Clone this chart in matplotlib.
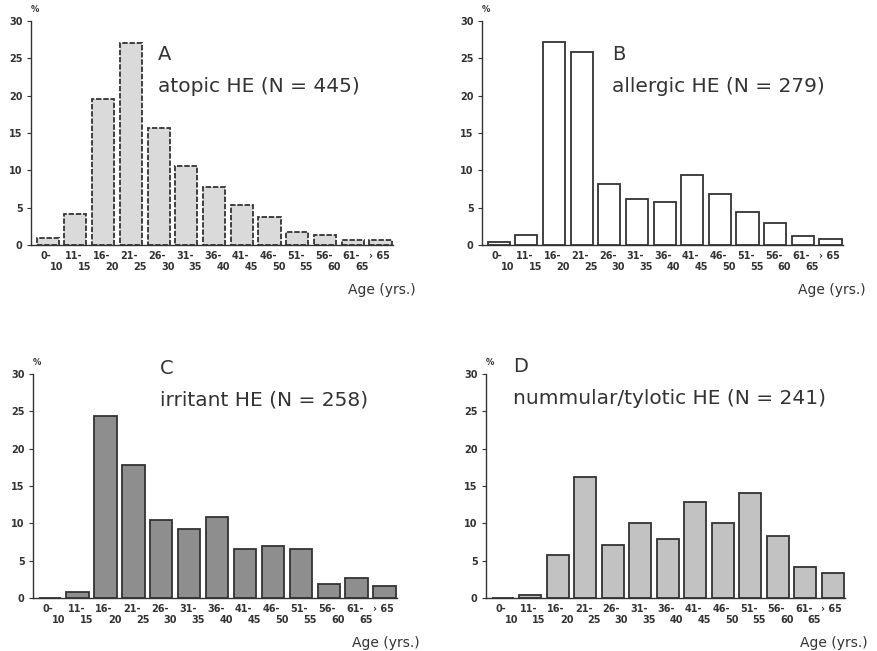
import matplotlib
matplotlib.use("Agg")
import matplotlib.pyplot as plt
from matplotlib.transforms import blended_transform_factory

W, H = 877, 651

age_top = ["0-", "11-", "16-", "21-", "26-", "31-", "36-", "41-", "46-", "51-", "56-", "61-", "› 65"]
age_bottom = ["10", "15", "20", "25", "30", "35", "40", "45", "50", "55", "60", "65", ""]

atopic = [0.9, 4.2, 19.5, 27.1, 15.7, 10.6, 7.8, 5.3, 3.7, 1.8, 1.3, 0.7, 0.7]
allergic = [0.45, 1.3, 27.2, 25.8, 8.2, 6.1, 5.7, 9.4, 6.8, 4.4, 3.0, 1.2, 0.8]
irritant = [0.0, 0.75, 24.4, 17.8, 10.5, 9.3, 10.9, 6.6, 7.0, 6.6, 1.9, 2.7, 1.6]
nummular = [0.0, 0.35, 5.7, 16.2, 7.1, 10.0, 7.9, 12.9, 10.0, 14.1, 8.3, 4.1, 3.4]

panels = [
    # values, letter, label, fill, edge style, axes box in pixels (left, top, right, bottom), text pos
    (atopic, "A", "atopic HE (N = 445)", "#dadada", (0, (3, 1)), (31, 21, 393, 245), (158, 55, 87)),
    (allergic, "B", "allergic HE (N = 279)", "#ffffff", "-", (482, 21, 843, 245), (612, 55, 87)),
    (irritant, "C", "irritant HE (N = 258)", "#8e8e8e", "-", (33, 374, 397, 598), (160, 368, 400)),
    (nummular, "D", "nummular/tylotic HE (N = 241)", "#c2c2c2", "-", (486, 374, 845, 598), (513, 367, 398)),
]

ink = "#333333"
fig = plt.figure(figsize=(W / 100, H / 100), dpi=100)

for vals, letter, label, fill, ls, box, tpos in panels:
    l, t, r, b = box
    ax = fig.add_axes([l / W, 1 - b / H, (r - l) / W, (b - t) / H])
    x = list(range(len(vals)))
    ax.bar(x, vals, width=0.8, color=fill, edgecolor=ink, linewidth=1.3, linestyle=ls)
    ax.set_xlim(-0.6, 12.45)
    ax.set_ylim(0, 30)
    ax.set_yticks([0, 5, 10, 15, 20, 25, 30])
    ax.set_xticks([])
    for s in ["top", "right"]:
        ax.spines[s].set_visible(False)
    for s in ["left", "bottom"]:
        ax.spines[s].set_color(ink)
        ax.spines[s].set_linewidth(1.0)
    ax.tick_params(axis="y", length=3, width=0.8, color=ink, labelsize=7,
                   labelcolor=ink, pad=3)
    for lab in ax.get_yticklabels():
        lab.set_fontweight("bold")
    tr = blended_transform_factory(ax.transData, ax.transAxes)
    for i in x:
        ax.text(i - 0.05, -0.05, age_top[i], transform=tr, ha="center", va="center",
                fontsize=7, fontweight="bold", color=ink)
        ax.text(i + 0.33, -0.10, age_bottom[i], transform=tr, ha="center", va="center",
                fontsize=7, fontweight="bold", color=ink)
    ax.text(0.0, 1.05, "%", transform=ax.transAxes, ha="left", va="center",
            fontsize=6, fontweight="bold", color=ink)
    ax.text(0.97, -0.2, "Age (yrs.)", transform=ax.transAxes, ha="center", va="center",
            fontsize=10, color=ink)
    tx, ty1, ty2 = tpos
    fig.text(tx / W, 1 - ty1 / H, letter, ha="left", va="center", fontsize=14, color=ink)
    fig.text(tx / W, 1 - ty2 / H, label, ha="left", va="center", fontsize=14.5, color=ink)

fig.savefig("out.png", dpi=100)
